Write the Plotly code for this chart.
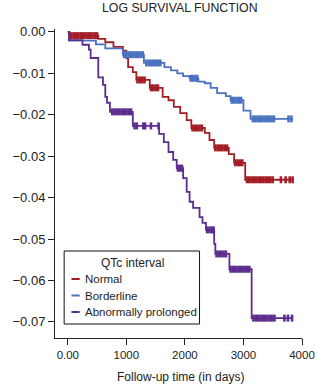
import numpy as np
import plotly.graph_objects as go

# ---------------- data ----------------
groups = ["Normal", "Borderline", "Abnormally prolonged"]

normal_t = [0, 30, 520, 640, 780, 940, 1000, 1030, 1110, 1170, 1400, 1620, 1720, 1810, 1920,
            2030, 2110, 2340, 2420, 2500, 2750, 2840, 3030, 3840]
normal_v = [0.0, -0.0009, -0.0017, -0.0025, -0.0036, -0.0045, -0.0063, -0.0085, -0.0097, -0.0116,
            -0.0135, -0.0157, -0.0165, -0.0181, -0.0196, -0.0213, -0.0232, -0.0244, -0.0261,
            -0.0280, -0.0295, -0.0316, -0.0357, -0.0357]
normal_cens = [60, 100, 140, 180, 220, 260, 300, 340, 380, 420, 460, 500,
               1190, 1230, 1270, 1310, 1420, 1460, 1500, 1540,
               2130, 2170, 2210, 2250, 2290, 2520, 2560, 2600, 2640, 2680, 2720,
               2860, 2900, 2940, 2980, 3060, 3100, 3140, 3180, 3220, 3260, 3300,
               3340, 3380, 3420, 3460, 3500, 3640, 3720, 3790, 3840]

border_t = [0, 20, 480, 640, 940, 1300, 1650, 1760, 1870, 1970, 2080, 2230, 2340, 2440, 2550,
            2700, 2780, 3000, 3120, 3850]
border_v = [0.0, -0.0021, -0.0030, -0.0040, -0.0055, -0.0075, -0.0085, -0.0093, -0.0100, -0.0107,
            -0.0112, -0.0120, -0.0124, -0.0135, -0.0148, -0.0155, -0.0165, -0.0190, -0.0210, -0.0210]
border_cens = [960, 1000, 1040, 1080, 1120, 1160, 1200, 1240, 1280,
               1340, 1380, 1420, 1460, 1500, 1540, 1580,
               2100, 2140, 2180, 2210, 2800, 2840, 2880, 2920, 2960,
               3160, 3200, 3240, 3280, 3320, 3360, 3400, 3440, 3480, 3520, 3770, 3820]

prolong_t = [0, 20, 250, 360, 390, 520, 600, 640, 670, 720, 1110, 1560, 1640, 1720, 1800, 1860,
             1970, 2030, 2080, 2140, 2250, 2300, 2360, 2500, 2520, 2760, 3140, 3840]
prolong_v = [0.0, -0.0020, -0.0031, -0.0043, -0.0063, -0.0110, -0.0128, -0.0157, -0.0171, -0.0193,
             -0.0227, -0.0246, -0.0266, -0.0290, -0.0309, -0.0329, -0.0353, -0.0386, -0.0410,
             -0.0425, -0.0447, -0.0461, -0.0478, -0.0512, -0.0536, -0.0573, -0.0691, -0.0691]
prolong_cens = [760, 800, 840, 880, 920, 960, 1000, 1040, 1080,
                1140, 1180, 1290, 1320, 1420, 1550,
                1880, 1920, 1950, 2380, 2420, 2460, 2490,
                2540, 2580, 2620, 2660, 2700, 2780, 2820, 2860, 2900, 2940, 2980,
                3020, 3060, 3100, 3170, 3210, 3250, 3290, 3330, 3370, 3410, 3450,
                3490, 3530, 3700, 3760, 3830]

colors = ["#A31D24", "#4A72BE", "#5B2D8E"]

x_ticks = [0, 1000, 2000, 3000, 4000]
x_ticktext = ["0.00", "1000", "2000", "3000", "4000"]
y_ticks = [0.0, -0.01, -0.02, -0.03, -0.04, -0.05, -0.06, -0.07]

series = [(normal_t, normal_v, normal_cens), (border_t, border_v, border_cens),
          (prolong_t, prolong_v, prolong_cens)]

# ---------------- figure ----------------
W, H = 327, 385
L, R, T, B = 43, 14, 29, 47
pw, ph = W - L - R, H - T - B
px = lambda x: (x - L) / pw
py = lambda y: (H - B - y) / ph

FONT = "Liberation Sans, Arial, Helvetica, sans-serif"
fig = go.Figure()

for (t, v, c), col, name in zip(series, colors, groups):
    fig.add_trace(go.Scatter(x=t, y=v, mode="lines", line=dict(color=col, width=1.8, shape="hv"),
                             name=name, showlegend=False, hoverinfo="skip"))
    t_arr = np.array(t)
    v_arr = np.array(v)
    idx = np.searchsorted(t_arr, np.array(c), side="right") - 1
    fig.add_trace(go.Scatter(x=c, y=v_arr[idx], mode="markers",
                             marker=dict(symbol="line-ns", size=5, line=dict(color=col, width=2.6)),
                             showlegend=False, hoverinfo="skip"))

axis_common = dict(showline=True, linecolor="#222", linewidth=1, ticks="outside", ticklen=6,
                   tickcolor="#222", tickwidth=1, showgrid=False, zeroline=False, mirror=False)
fig.update_xaxes(range=[-219, 4000], tickvals=x_ticks, ticktext=x_ticktext,
                 tickfont=dict(family=FONT, size=11.5, color="#222"), **axis_common)
fig.update_yaxes(range=[-0.0739, 0.0007], tickvals=y_ticks, tickformat=".2f",
                 tickfont=dict(family=FONT, size=13, color="#222"), **axis_common)

# legend box drawn manually
shapes = [dict(type="rect", xref="paper", yref="paper", x0=px(53), x1=px(201), y0=py(324), y1=py(251),
               line=dict(color="#111", width=1), fillcolor="white", layer="above")]
ann = [dict(text="QTc interval", xref="paper", yref="paper", x=px(128), y=py(263),
            xanchor="center", yanchor="middle", showarrow=False,
            font=dict(family=FONT, size=12, color="#222"))]
for i, (name, col) in enumerate(zip(groups, colors)):
    yy = 279 + i * 16.5
    shapes.append(dict(type="line", xref="paper", yref="paper", x0=px(61), x1=px(70),
                       y0=py(yy), y1=py(yy), line=dict(color=col, width=2), layer="above"))
    ann.append(dict(text=name, xref="paper", yref="paper", x=px(74), y=py(yy),
                    xanchor="left", yanchor="middle", showarrow=False,
                    font=dict(family=FONT, size=11.5, color="#222")))

ann.append(dict(text="LOG SURVIVAL FUNCTION", xref="paper", yref="paper", x=px(180), y=py(8),
                xanchor="center", yanchor="middle", showarrow=False,
                font=dict(family=FONT, size=12.3, color="#222")))
ann.append(dict(text="Follow-up time (in days)", xref="paper", yref="paper", x=px(180), y=py(377),
                xanchor="center", yanchor="middle", showarrow=False,
                font=dict(family=FONT, size=12, color="#222")))

fig.update_layout(width=W, height=H, margin=dict(l=L, r=R, t=T, b=B, pad=0),
                  plot_bgcolor="white", paper_bgcolor="white", shapes=shapes, annotations=ann,
                  showlegend=False)

fig.write_html("out.html", config={"displayModeBar": False})
